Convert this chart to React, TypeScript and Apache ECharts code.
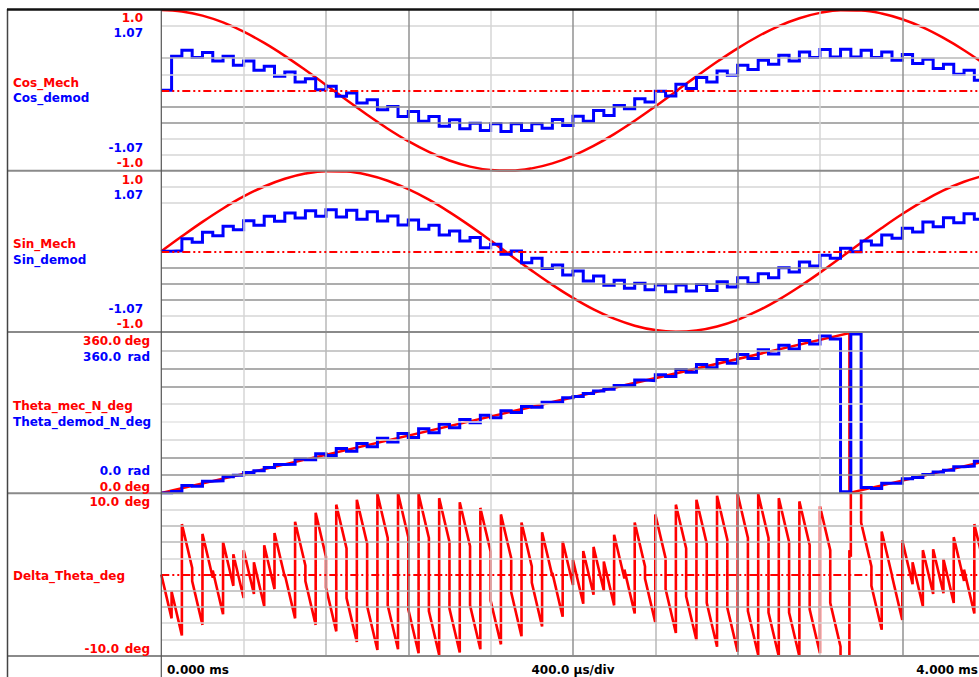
import React, { useEffect, useRef } from "react";
import * as echarts from "echarts";

const RED = "#ff0000";
const BLUE = "#0000ff";
const FONT = '"DejaVu Sans", Verdana, sans-serif';

const TIME_MAX_MS = 4.0; // end of the record
const VIEW_END_MS = 3.9727; // time at the right edge of the visible window
const TIME_DIV_MS = 0.4;
const SAMPLE_MS = 0.05; // demodulator update period
const MECH_STEP_MS = 0.1; // spacing of the mechanical samples
const WRAP_MS = 3.343; // mechanical angle rolls over 360 -> 0
const WRAP_SAMPLE = 66; // demod sample during which the roll-over happens

// Mechanical cos / sin, one value every 0.1 ms from 0 to 4.0 ms
const cosMech = [
  1.0, 0.982, 0.93, 0.845, 0.73, 0.59, 0.429, 0.252, 0.067, -0.121,
  -0.304, -0.477, -0.633, -0.766, -0.873, -0.949, -0.991, -0.999, -0.971, -0.909,
  -0.815, -0.692, -0.545, -0.379, -0.2, -0.013, 0.174, 0.355, 0.523, 0.673,
  0.8, 0.898, 0.964, 0.997, 0.994, 0.957, 0.885, 0.783, 0.652, 0.499,
  0.326,
];
const sinMech = [
  0.0, 0.187, 0.367, 0.534, 0.683, 0.807, 0.903, 0.968, 0.998, 0.993,
  0.953, 0.879, 0.774, 0.643, 0.488, 0.317, 0.134, -0.054, -0.24, -0.417,
  -0.579, -0.722, -0.838, -0.925, -0.98, -1.0, -0.985, -0.935, -0.852, -0.739,
  -0.6, -0.44, -0.265, -0.08, 0.108, 0.291, 0.465, 0.623, 0.758, 0.866,
  0.945,
];
// Mechanical angle in degrees: [time ms, deg]
const thetaMech: [number, number][] = [
  [0, 0],
  [WRAP_MS, 360],
  [WRAP_MS, 0],
  [TIME_MAX_MS, 70.8],
];

// Demodulated outputs, one held value per 50 us sample
const cosDemod = [
  0, 0.455, 0.535, 0.437, 0.504, 0.392, 0.455, 0.334, 0.392, 0.268,
  0.321, 0.187, 0.245, 0.111, 0.156, 0.009, 0.054, -0.08, -0.036, -0.17,
  -0.124, -0.258, -0.214, -0.348, -0.281, -0.411, -0.348, -0.477, -0.392, -0.512,
  -0.437, -0.535, -0.445, -0.548, -0.445, -0.535, -0.445, -0.504, -0.388, -0.468,
  -0.344, -0.411, -0.268, -0.334, -0.201, -0.245, -0.111, -0.156, -0.013, -0.076,
  0.08, 0.023, 0.17, 0.111, 0.258, 0.201, 0.334, 0.277, 0.401, 0.348,
  0.468, 0.392, 0.512, 0.437, 0.544, 0.445, 0.548, 0.445, 0.535, 0.437,
  0.512, 0.401, 0.477, 0.357, 0.415, 0.29, 0.348, 0.214, 0.268, 0.134,
];
const sinDemod = [
  0, 0.007, 0.169, 0.12, 0.253, 0.209, 0.333, 0.289, 0.409, 0.346,
  0.466, 0.4, 0.51, 0.444, 0.542, 0.466, 0.553, 0.458, 0.546, 0.426,
  0.529, 0.405, 0.472, 0.352, 0.418, 0.293, 0.346, 0.219, 0.272, 0.139,
  0.183, 0.049, 0.093, -0.04, 0.005, -0.151, -0.093, -0.227, -0.181, -0.314,
  -0.261, -0.394, -0.328, -0.453, -0.386, -0.493, -0.426, -0.513, -0.448, -0.537,
  -0.448, -0.528, -0.44, -0.52, -0.404, -0.474, -0.35, -0.426, -0.297, -0.35,
  -0.217, -0.274, -0.141, -0.195, -0.053, -0.093, 0.04, -0.004, 0.139, 0.085,
  0.219, 0.173, 0.306, 0.259, 0.392, 0.329, 0.449, 0.382, 0.502, 0.426,
];
const thetaDemod = [
  0, 3.3, 17.0, 15.4, 26.5, 27.4, 36.3, 40.2, 46.1, 50.0,
  57.5, 64.3, 64.6, 76.5, 74.6, 88.4, 84.6, 100.1, 94.0, 111.5,
  103.8, 123.0, 114.7, 133.9, 124.9, 144.5, 135.5, 154.8, 146.6, 165.1,
  157.8, 175.1, 169.1, 185.1, 180.9, 194.9, 192.9, 204.4, 204.8, 214.1,
  217.2, 223.7, 229.6, 233.2, 241.8, 242.9, 254.1, 252.6, 265.9, 262.1,
  277.9, 271.9, 289.2, 281.9, 300.5, 292.1, 311.5, 302.4, 322.2, 313.0,
  332.5, 323.8, 342.9, 335.0, 353.0, 346.5, 3.0, 358.0, 12.6, 10.1,
  22.2, 22.1, 31.9, 34.6, 41.5, 47.0, 51.2, 59.2, 60.6, 71.6,
];

// Angle error in degrees: value just after each sample update, and at its end
const deltaStart = [
  0.0, -2.1, 6.2, -0.8, 5.0, 0.5, 4.0, 2.5, 3.0, 1.5,
  3.6, 5.1, 0.0, 6.5, -0.8, 7.6, -1.6, 8.6, -2.9, 9.2,
  -3.9, 9.9, -3.8, 10.0, -4.3, 9.9, -4.5, 9.4, -4.2, 8.9,
  -3.8, 8.2, -3.2, 7.4, -2.2, 6.4, -1.0, 5.2, 0.2, 4.1,
  1.8, 2.9, 3.4, 1.6, 4.9, 0.6, 6.4, -0.5, 7.4, -1.8,
  8.6, -2.7, 9.2, -3.5, 9.7, -4.1, 9.9, -4.5, 9.9, -4.7,
  9.4, -4.7, 9.0, -4.3, 8.4, -3.5, -352.4, 357.2, 6.4, -1.4,
  5.3, -0.2, 4.2, 1.5, 3.0, 3.1, 1.9, 4.6, 0.6, 6.2,
];
const deltaEnd = [
  -5.4, -7.5, 0.8, -6.2, -0.4, -4.9, -1.4, -2.9, -2.4, -3.9,
  -1.8, -0.3, -5.4, 1.1, -6.2, 2.2, -7.0, 3.2, -8.3, 3.8,
  -9.3, 4.5, -9.2, 4.6, -9.7, 4.5, -9.9, 4.0, -9.6, 3.5,
  -9.2, 2.8, -8.6, 2.0, -7.6, 1.0, -6.4, -0.2, -5.2, -1.3,
  -3.6, -2.5, -2.0, -3.8, -0.5, -4.8, 1.0, -5.9, 2.0, -7.2,
  3.2, -8.1, 3.8, -8.9, 4.3, -9.5, 4.5, -9.9, 4.5, -10.1,
  4.0, -10.1, 3.6, -9.7, 3.0, -8.9, 2.2, 351.8, 1.0, -6.8,
  -0.1, -5.6, -1.2, -3.9, -2.4, -2.3, -3.5, -0.8, -4.8, 0.8,
];
// error just before / just after the mechanical roll-over
const deltaAtWrap = [-357.0, 3.0];

// grid line shades
const LIGHT = "#d6d6d6";
const FAINT = "#e4e4e4";
const MID = "#b8b8b8";
const DARK = "#929292";

const vGrid: [number, string][] = [
  [0.4, LIGHT], [0.8, MID], [1.2, DARK], [1.6, LIGHT], [2.0, DARK],
  [2.4, MID], [2.8, DARK], [3.2, LIGHT], [3.6, DARK],
];
const hGrid: [number, string][][] = [
  [[0.8, LIGHT], [0.4, MID], [0.2, LIGHT], [-0.2, DARK], [-0.4, DARK], [-0.6, LIGHT], [-0.8, LIGHT]],
  [[0.8, LIGHT], [0.6, LIGHT], [-0.2, DARK], [-0.4, DARK], [-0.6, DARK], [-0.8, LIGHT]],
  [[320, MID], [280, DARK], [240, DARK], [200, LIGHT], [160, FAINT], [120, LIGHT], [80, DARK], [40, DARK]],
  [[8, LIGHT], [6, MID], [4, MID], [2, LIGHT], [-2, MID], [-4, MID], [-6, LIGHT], [-8, LIGHT]],
];
const zeroLine = [true, true, false, true];

const tk = (i: number, step: number) => +(i * step).toFixed(4);

const mechPoints = (vals: number[]) => vals.map((v, i) => [tk(i, MECH_STEP_MS), v]);
const heldPoints = (vals: number[]) => [
  ...vals.map((v, i) => [tk(i, SAMPLE_MS), v]),
  [TIME_MAX_MS, vals[vals.length - 1]],
];
const deltaPoints = () => {
  const pts: number[][] = [];
  deltaStart.forEach((v, k) => {
    pts.push([tk(k, SAMPLE_MS), v]);
    if (k === WRAP_SAMPLE) {
      pts.push([WRAP_MS, deltaAtWrap[0]], [WRAP_MS, deltaAtWrap[1]]);
    }
    pts.push([tk(k + 1, SAMPLE_MS), deltaEnd[k]]);
  });
  return pts;
};

// panel frames (px)
const PLOT_LEFT = 161.3;
const panels = [
  { top: 10, height: 160.7 },
  { top: 171, height: 160.7 },
  { top: 333, height: 160 },
  { top: 493.3, height: 162.4 },
];
const STRIP = { top: 656, height: 21 };

type Lbl = [number, number, string, string, "left" | "right" | "center"];
const labels: Lbl[] = [
  [143, 18, "1.0", RED, "right"],
  [143, 33, "1.07", BLUE, "right"],
  [13, 83, "Cos_Mech", RED, "left"],
  [13, 98, "Cos_demod", BLUE, "left"],
  [143, 148, "-1.07", BLUE, "right"],
  [143, 163, "-1.0", RED, "right"],

  [143, 179.5, "1.0", RED, "right"],
  [143, 195, "1.07", BLUE, "right"],
  [13, 244, "Sin_Mech", RED, "left"],
  [13, 260, "Sin_demod", BLUE, "left"],
  [143, 309, "-1.07", BLUE, "right"],
  [143, 324, "-1.0", RED, "right"],

  [121, 341, "360.0", RED, "right"],
  [150, 341, "deg", RED, "right"],
  [121, 356.7, "360.0", BLUE, "right"],
  [150, 356.7, "rad", BLUE, "right"],
  [13, 406, "Theta_mec_N_deg", RED, "left"],
  [13, 421.7, "Theta_demod_N_deg", BLUE, "left"],
  [121, 470.7, "0.0", BLUE, "right"],
  [150, 470.7, "rad", BLUE, "right"],
  [121, 486.7, "0.0", RED, "right"],
  [150, 486.7, "deg", RED, "right"],

  [119, 502.3, "10.0", RED, "right"],
  [150, 502.3, "deg", RED, "right"],
  [13, 575.7, "Delta_Theta_deg", RED, "left"],
  [119, 649, "-10.0", RED, "right"],
  [150, 649, "deg", RED, "right"],

  [167, 669.5, "0.000 ms", "#000", "left"],
  [573, 669.5, "400.0 \u00b5s/div", "#000", "center"],
  [978, 669.5, "4.000 ms", "#000", "right"],
];

function buildOption() {
  const grids = [...panels, STRIP].map((p) => ({
    left: PLOT_LEFT,
    right: 0,
    top: p.top,
    height: p.height,
    containLabel: false,
  }));

  const xAxes = grids.map((_, i) => ({
    type: "value",
    gridIndex: i,
    min: 0,
    max: VIEW_END_MS,
    interval: TIME_DIV_MS,
    show: i === 4,
    position: "top",
    axisLine: { show: false },
    axisTick: { show: i === 4, inside: true, length: 6, lineStyle: { color: "#7a7a7a", width: 1 } },
    axisLabel: { show: false },
    splitLine: { show: false },
  }));

  const yAx = (gridIndex: number, min: number, max: number) => ({
    type: "value",
    gridIndex,
    min,
    max,
    show: false,
    splitLine: { show: false },
  });
  const yAxes = [
    yAx(0, -1, 1), yAx(0, -1.07, 1.07),
    yAx(1, -1, 1), yAx(1, -1.07, 1.07),
    yAx(2, 0, 360), yAx(2, 0, 360),
    yAx(3, -10, 10),
    yAx(4, 0, 1),
  ];
  const redAxis = [0, 2, 4, 6];

  const gridSeries = panels.map((_, i) => {
    const data: any[] = [
      ...hGrid[i].map(([v, c]) => ({ yAxis: v, lineStyle: { color: c, width: 1.5, type: "solid" } })),
      ...vGrid.map(([v, c]) => ({ xAxis: v, lineStyle: { color: c, width: 1.5, type: "solid" } })),
    ];
    if (zeroLine[i]) {
      data.push({ yAxis: 0, lineStyle: { color: RED, width: 2, type: [8, 3, 2, 3, 2, 3] } });
    }
    return {
      type: "line",
      xAxisIndex: i,
      yAxisIndex: redAxis[i],
      data: [],
      silent: true,
      z: 1,
      markLine: {
        silent: true,
        animation: false,
        symbol: ["none", "none"],
        label: { show: false },
        emphasis: { disabled: true },
        data,
      },
    };
  });

  const trace = (
    name: string,
    xi: number,
    yi: number,
    data: any[],
    color: string,
    width: number,
    extra: any = {}
  ) => ({
    name,
    type: "line",
    xAxisIndex: xi,
    yAxisIndex: yi,
    data,
    symbol: "none",
    showSymbol: false,
    silent: true,
    clip: true,
    z: color === BLUE ? 4 : 3,
    lineStyle: { color, width, join: "miter" },
    emphasis: { disabled: true },
    ...extra,
  });

  const series = [
    ...gridSeries,
    trace("Cos_Mech", 0, 0, mechPoints(cosMech), RED, 2.5, { smooth: 0.4 }),
    trace("Cos_demod", 0, 1, heldPoints(cosDemod), BLUE, 3, { step: "end" }),
    trace("Sin_Mech", 1, 2, mechPoints(sinMech), RED, 2.5, { smooth: 0.4 }),
    trace("Sin_demod", 1, 3, heldPoints(sinDemod), BLUE, 3, { step: "end" }),
    trace("Theta_mec_N_deg", 2, 4, thetaMech, RED, 2.5),
    trace("Theta_demod_N_deg", 2, 5, heldPoints(thetaDemod), BLUE, 3, { step: "end" }),
    trace("Delta_Theta_deg", 3, 6, deltaPoints(), RED, 2.6),
  ];

  const hLine = (y: number, color: string, w: number, x1 = 7, x2 = 979) => ({
    type: "line",
    silent: true,
    z: 20,
    shape: { x1, y1: y, x2, y2: y },
    style: { stroke: color, lineWidth: w },
  });
  const vLine = (x: number, color: string, w: number, y1 = 9, y2 = 677) => ({
    type: "line",
    silent: true,
    z: 20,
    shape: { x1: x, y1, x2: x, y2 },
    style: { stroke: color, lineWidth: w },
  });

  const frame = [
    hLine(170.7, "#8a8a8a", 2),
    hLine(332, "#8a8a8a", 2),
    hLine(493.3, "#8a8a8a", 2),
    hLine(656, "#8a8a8a", 2),
    vLine(161.3, "#555555", 1.2),
    vLine(7.5, "#444444", 1.5),
    hLine(9.5, "#111111", 2.5),
  ];

  const texts = labels.map(([x, y, text, color, align]) => ({
    type: "text",
    silent: true,
    z: 21,
    style: {
      x,
      y,
      text,
      fill: color,
      font: `bold 12px ${FONT}`,
      textAlign: align,
      textVerticalAlign: "middle",
    },
  }));

  return {
    animation: false,
    backgroundColor: "#ffffff",
    grid: grids,
    xAxis: xAxes,
    yAxis: yAxes,
    series,
    graphic: { elements: [...frame, ...texts] },
  };
}

export default function App() {
  const ref = useRef<HTMLDivElement>(null);

  useEffect(() => {
    if (!ref.current) return;
    const chart = echarts.init(ref.current, undefined, { renderer: "svg" });
    chart.setOption(buildOption() as any);
    return () => chart.dispose();
  }, []);

  return (
    <div
      ref={ref}
      style={{
        position: "absolute",
        left: 0,
        top: 0,
        width: 979,
        height: 677,
        overflow: "hidden",
        background: "#fff",
      }}
    />
  );
}
